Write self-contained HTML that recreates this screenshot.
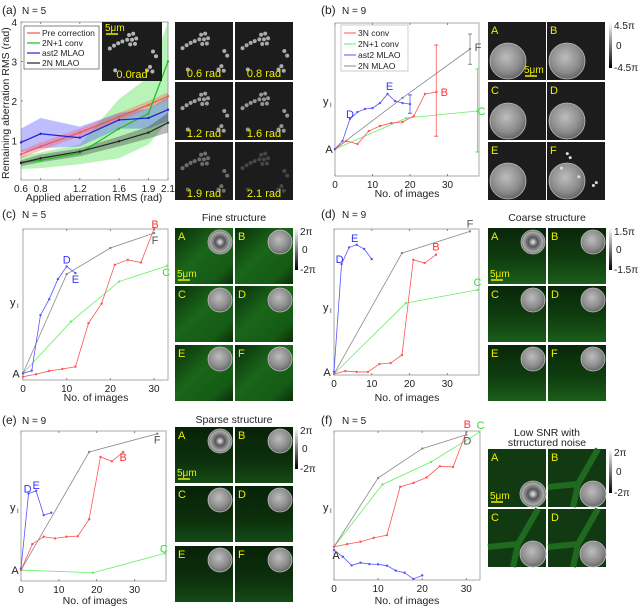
<!DOCTYPE html>
<html><head><meta charset="utf-8"><style>
body{margin:0;background:#fff}
svg{display:block;font-family:"Liberation Sans",sans-serif}
</style></head><body>
<svg id="fig" width="640" height="607" viewBox="0 0 640 607">
<defs>
<radialGradient id="pupil" cx="45%" cy="40%" r="60%"><stop offset="0" stop-color="#bdbdbd"/><stop offset="0.7" stop-color="#8a8a8a"/><stop offset="1" stop-color="#666"/></radialGradient>
<radialGradient id="pupilA" cx="50%" cy="50%" r="55%"><stop offset="0" stop-color="#eee"/><stop offset="0.35" stop-color="#555"/><stop offset="0.75" stop-color="#aaa"/><stop offset="1" stop-color="#333"/></radialGradient>
<linearGradient id="cbar" x1="0" y1="0" x2="0" y2="1"><stop offset="0" stop-color="#fff"/><stop offset="1" stop-color="#000"/></linearGradient>
<linearGradient id="fine" x1="0" y1="0" x2="1" y2="1"><stop offset="0" stop-color="#0a2e0a"/><stop offset="0.45" stop-color="#1a661a"/><stop offset="0.8" stop-color="#155a15"/><stop offset="1" stop-color="#0a2e0a"/></linearGradient>
<linearGradient id="coarse" x1="0" y1="0" x2="0" y2="1"><stop offset="0" stop-color="#092609"/><stop offset="0.55" stop-color="#0f3d0f"/><stop offset="1" stop-color="#1a5e1a"/></linearGradient>
<linearGradient id="sparse" x1="0" y1="0" x2="0" y2="1"><stop offset="0" stop-color="#082208"/><stop offset="0.6" stop-color="#0c300c"/><stop offset="1" stop-color="#154a15"/></linearGradient>
</defs>
</svg>
<script>
// ---------- data ----------
const aX=[0.6,0.8,1.2,1.6,1.9,2.1];
const aPre=[0.65,0.85,1.2,1.6,1.9,2.12];
const aPreLo=[0.55,0.75,1.1,1.5,1.8,2.02];
const aPreHi=[0.75,0.95,1.3,1.7,2.0,2.22];
const aConv=[0.45,0.5,0.68,1.3,1.68,3.0];
const aConvLo=[0.28,0.3,0.4,0.55,0.9,1.5];
const aConvHi=[0.6,0.7,0.9,2.05,2.6,4.0];
const aAst=[0.95,1.17,1.07,1.52,1.57,1.78];
const aAstLo=[0.7,0.8,0.85,1.3,1.3,1.5];
const aAstHi=[1.3,1.57,1.35,1.7,1.8,2.1];
const aMl=[0.43,0.55,0.72,0.98,1.2,1.45];
const aMlLo=[0.35,0.45,0.6,0.85,1.05,1.2];
const aMlHi=[0.5,0.65,0.8,1.1,1.35,1.7];
const aXTicks=["0.6","0.8","1.2","1.6","1.9","2.1"];
const aYTicks=[1,2,3,4];

const bRedX=[0,3,6,9,12,15,18,21,24,27];
const bRedY=[17.6,22.9,20.9,29.4,32.7,34.6,35.3,39.2,53.6,54.9];
const bGreenX=[0,19,38];
const bGreenY=[17.6,37.9,42.5];
const bBlueX=[0,2,4,6,8,10,12,14,16,18,20];
const bBlueY=[17.6,22.9,37.3,41.8,43.8,44.4,47.7,53.6,49,47.7,47];
const bGrayX=[0,18,36];
const bGrayY=[17.6,51,83];
const bErr=[[27,26,85.6,'#f55'],[38,15.7,70,'#5d5'],[20,41,53,'#55f'],[36,73,92.8,'#888']];

const cRedX=[0,3,6,9,12,15,18,21,24,27,30];
const cRedY=[2.2,3.8,6,7.3,8.8,37.6,50.6,76.3,79.6,77.8,100];
const cGreenX=[0,11,22,33];
const cGreenY=[4.4,38.7,65.2,75.6];
const cBlueX=[0,2,4,6,8,10,12];
const cBlueY=[4.4,6.2,42.9,53.5,66.8,75.2,70.8];
const cGrayX=[0,10,20,30];
const cGrayY=[4.4,70.1,87.4,97.3];

const dRedX=[0,3,6,9,12,15,18,21,24,27];
const dRedY=[0.7,2.7,2.1,2.1,7.5,8.2,13.7,78.9,76.7,82.4];
const dGreenX=[0,19,38];
const dGreenY=[0.7,49.2,58.3];
const dBlueX=[0,2,4,6,8,10];
const dBlueY=[2.3,76,87.4,89.2,86.3,79.4];
const dGrayX=[0,18,36];
const dGrayY=[0.7,83.5,98.4];

const eRedX=[0,3,6,9,12,15,18,21,24,27];
const eRedY=[7.3,24.6,29.5,28.4,29.5,29.9,41.2,82.7,79.8,86];
const eGreenX=[0,19,38];
const eGreenY=[7.3,5.5,18.4];
const eBlueX=[0,2,4,6,8];
const eBlueY=[8.4,58.3,60.1,43.9,45.5];
const eGrayX=[0,18,36];
const eGrayY=[7.3,86,98.2];

const fRedX=[0,3,6,9,12,15,18,21,24,27,30];
const fRedY=[22.3,24.1,25.7,28.3,30.1,62.5,65.2,68.8,76.3,75.9,99.3];
const fGreenX=[0,11,22,33];
const fGreenY=[22.3,64.1,79.2,99.3];
const fBlueX=[0,2,4,6,8,10,12,14,16,18,20];
const fBlueY=[20.1,15.6,9.8,11.6,10.7,10.5,9.6,6.3,4.9,0.7,3.1];
const fGrayX=[0,10,20,30];
const fGrayY=[22.3,68.5,88.2,97.5];

const numTicks=[0,10,20,30];

// ---------- helpers ----------
const S=document.getElementById('fig');
const NS='http://www.w3.org/2000/svg';
function mk(tag,attrs,parent,txt){const e=document.createElementNS(NS,tag);for(const k in attrs)e.setAttribute(k,attrs[k]);if(txt!==undefined)e.textContent=txt;(parent||S).appendChild(e);return e;}
function grp(name){const g=mk('g',{});


return g;}
function text(p,x,y,s,opt){opt=opt||{};const t=mk('text',{x:x,y:y,'font-size':opt.fs||9,fill:opt.fill||'#222','text-anchor':opt.anchor||'start'},p,s);if(opt.rot)t.setAttribute('transform','rotate(-90 '+x+' '+y+')');


return t;}

function axes(name,box,xr,yr){
  const g=grp(name);
  const sx=v=>box.x+(v-xr[0])/(xr[1]-xr[0])*box.w;
  const sy=v=>box.y+box.h-(v-yr[0])/(yr[1]-yr[0])*box.h;
  const r=mk('rect',{x:box.x,y:box.y,width:box.w,height:box.h,fill:'#fff',stroke:'#aaa','stroke-width':1},g);
  
  
  return {g,sx,sy,box};
}
function series(ax,xs,ys,color,name,w){
  const pts=xs.map((x,i)=>ax.sx(x)+','+ax.sy(ys[i])).join(' ');
  const pl=mk('polyline',{points:pts,fill:'none',stroke:color,'stroke-width':w||0.8},ax.g);
  
  
  xs.forEach((x,i)=>{const c=mk('circle',{cx:ax.sx(x),cy:ax.sy(ys[i]),r:1.2,fill:color},ax.g);
    
    });
}
function band(ax,xs,lo,hi,color,name){
  const pts=xs.map((x,i)=>ax.sx(x)+','+ax.sy(hi[i])).concat(xs.slice().reverse().map((x,j)=>{const i=xs.length-1-j;return ax.sx(x)+','+ax.sy(lo[i]);})).join(' ');
  const p=mk('polygon',{points:pts,fill:color,'fill-opacity':0.35,stroke:'none'},ax.g);
  
  
}
function xticks(ax,ticks,labels){
  ticks.forEach((t,i)=>{const x=ax.sx(t);
    mk('line',{x1:x,y1:ax.box.y+ax.box.h,x2:x,y2:ax.box.y+ax.box.h-2,stroke:'#888'},ax.g);
    mk('line',{x1:x,y1:ax.box.y,x2:x,y2:ax.box.y+2,stroke:'#888'},ax.g);
    text(ax.g,x,ax.box.y+ax.box.h+12,labels?labels[i]:String(t),{anchor:'middle',fs:10,name:'x-tick-label'});});
}
function ptLabel(ax,x,y,s,color,dx,dy){text(ax.g,ax.sx(x)+(dx||0),ax.sy(y)+(dy||0),s,{fill:color,fs:11,anchor:'middle',name:'point-label-'+s});}

// ---------- panel a ----------
text(S,2,14,'(a)',{fs:12,name:'panel-label-a'});text(S,22,14,'N = 5',{fs:10,name:'n-label-a'});
const A=axes('chart-a',{x:21,y:22,w:147,h:158},[0.6,2.1],[0,4]);
band(A,aX,aConvLo,aConvHi,'#3d3','band-2n1-conv');
band(A,aX,aAstLo,aAstHi,'#44f','band-ast2');
band(A,aX,aPreLo,aPreHi,'#f55','band-pre');
band(A,aX,aMlLo,aMlHi,'#333','band-2n-mlao');
series(A,aX,aPre,'#e55','line-pre-correction',1.2);
series(A,aX,aConv,'#2b2','line-2n1-conv',1.2);
series(A,aX,aAst,'#22c','line-ast2-mlao',1.2);
series(A,aX,aMl,'#222','line-2n-mlao',1.2);
xticks(A,aX.map(Number),aXTicks);
aYTicks.forEach(t=>{text(A.g,17,A.sy(t)+4,String(t),{anchor:'end',fs:10,name:'y-tick-label'});mk('line',{x1:21,y1:A.sy(t),x2:23,y2:A.sy(t),stroke:'#888'},A.g);});
text(S,9,179,'Remaining aberration RMS (rad)',{rot:1,fs:10.5,name:'y-axis-title-a'});
text(S,94,201,'Applied aberration RMS (rad)',{anchor:'middle',fs:10.5,name:'x-axis-title-a'});
// legend a
{const g=grp('legend-a');mk('rect',{x:24,y:26,width:75,height:43,fill:'#fff',stroke:'#333','stroke-width':0.6},g);
[['Pre correction','#e55'],['2N+1 conv','#2b2'],['ast2 MLAO','#22c'],['2N MLAO','#222']].forEach((e,i)=>{const y=36+i*10;
mk('line',{x1:27,y1:y-3,x2:40,y2:y-3,stroke:e[1],'stroke-width':1.2},g);text(g,42,y,e[0],{fs:8.5,name:'legend-entry'});});}

// bead images
function beads(g,x,y,w,h,b){
  const r=mk('rect',{x:x,y:y,width:w,height:h,fill:'#1c1c1c'},g);
  
  const rel=[[.45,.22],[.52,.2],[.42,.3],[.5,.3],[.57,.28],[.47,.38],[.55,.37],[.13,.45],[.2,.4],[.27,.36],[.34,.33],[.85,.5],[.9,.58],[.22,.82],[.75,.82],[.8,.76],[.84,.84]];
  rel.forEach(p=>mk('circle',{cx:x+p[0]*w,cy:y+p[1]*h,r:2,fill:'rgb('+b+','+b+','+b+')'},g));
}
function cap(g,x,y,s){text(g,x,y,s,{fill:'#ee0',fs:11,anchor:'middle',name:'image-caption'});}
{const g=grp('bead-grid-a');
beads(g,102,22,60,59,180);cap(g,132,78,'0.0rad');
text(g,105,31,'5μm',{fill:'#ee0',fs:10,name:'scale-bar-label'});mk('line',{x1:106,y1:34,x2:118,y2:34,stroke:'#ee0','stroke-width':1.5},g);
const cols=[175,235],rows=[22,82,142],caps=['0.6 rad','0.8 rad','1.2 rad','1.6 rad','1.9 rad','2.1 rad'],br=[170,170,160,150,110,70];
rows.forEach((ry,ri)=>cols.forEach((cx,ci)=>{const k=ri*2+ci;beads(g,cx,ry,58,58,br[k]);cap(g,cx+29,ry+55,caps[k]);}));}

// ---------- panel b ----------
text(S,321,14,'(b)',{fs:12,name:'panel-label-b'});text(S,342,14,'N = 9',{fs:10,name:'n-label-b'});
const B=axes('chart-b',{x:335,y:23,w:144,h:153},[0,38.4],[0,100]);
series(B,bGreenX,bGreenY,'#6e6','line-2n1-conv');
series(B,bGrayX,bGrayY,'#888','line-2n-mlao');
series(B,bRedX,bRedY,'#f55','line-3n-conv');
series(B,bBlueX,bBlueY,'#55f','line-ast2-mlao');
bErr.forEach(e=>{const x=B.sx(e[0]);const l=mk('line',{x1:x,y1:B.sy(e[1]),x2:x,y2:B.sy(e[2]),stroke:e[3],'stroke-width':0.8},B.g);

[e[1],e[2]].forEach(v=>mk('line',{x1:x-2,y1:B.sy(v),x2:x+2,y2:B.sy(v),stroke:e[3]},B.g));});
xticks(B,numTicks);
text(S,407,197,'No. of images',{anchor:'middle',fs:10.5,name:'x-axis-title-b'});
text(S,323,105,'y',{fs:11,name:'y-axis-title-b'});text(S,330,107,'I',{fs:6,name:'y-axis-sub'});
ptLabel(B,0,17.6,'A','#222',-6,4);ptLabel(B,4,37.3,'D','#33f',0,-1);ptLabel(B,14,53.6,'E','#33f',2,-4);
ptLabel(B,27,54.9,'B','#f33',8,4);ptLabel(B,38,42.5,'C','#3d3',4,4);ptLabel(B,36,83,'F','#555',8,2);
{const g=grp('legend-b');mk('rect',{x:341,y:25,width:67,height:46,fill:'#fff',stroke:'#aaa','stroke-width':0.6},g);
[['3N conv','#f55'],['2N+1 conv','#6e6'],['ast2 MLAO','#55f'],['2N MLAO','#888']].forEach((e,i)=>{const y=36+i*11;
mk('line',{x1:344,y1:y-3,x2:356,y2:y-3,stroke:e[1]},g);text(g,358,y,e[0],{fs:8.5,name:'legend-entry'});});}

// generic grids
function pupil(g,cx,cy,r,fill){const c=mk('circle',{cx:cx,cy:cy,r:r,fill:'url(#'+fill+')',stroke:'#bbb','stroke-width':0.8},g);
}
function tile(g,x,y,w,h,fill,letter){const r=mk('rect',{x:x,y:y,width:w,height:h,fill:fill},g);

text(g,x+3,y+12,letter,{fill:'#ee0',fs:11,name:'tile-letter'});}
function colorbar(g,x,y,h,labels){const r=mk('rect',{x:x,y:y,width:3,height:h,fill:'url(#cbar)'},g);

text(g,x+5,y+7,labels[0],{fs:10,name:'colorbar-max'});text(g,x+7,y+h/2+4,'0',{fs:10,name:'colorbar-zero'});text(g,x+5,y+h+3,labels[1],{fs:10,name:'colorbar-min'});}
function scalebar(g,x,y){text(g,x,y,'5μm',{fill:'#ee0',fs:10,name:'scale-bar-label'});mk('line',{x1:x+1,y1:y+3,x2:x+13,y2:y+3,stroke:'#ee0','stroke-width':1.5},g);}

// b images
{const g=grp('image-grid-b');const cols=[488,547],rows=[22,82,142],L=['A','B','C','D','E','F'];
rows.forEach((ry,ri)=>cols.forEach((cx,ci)=>{const k=ri*2+ci;tile(g,cx,ry,58,58,'#1c1c1c',L[k]);pupil(g,cx+20,ry+39,18,'pupil');
if(k==5)[[.35,.2],[.4,.27],[.25,.45],[.55,.6],[.8,.75],[.85,.7]].forEach(p=>mk('circle',{cx:cx+p[0]*58,cy:ry+p[1]*58,r:1.5,fill:'#ddd'},g));}));
scalebar(g,524,73);colorbar(g,609,22,46,['4.5π','-4.5π']);}

// ---------- panel c ----------
text(S,2,218,'(c)',{fs:12,name:'panel-label-c'});text(S,22,218,'N = 5',{fs:10,name:'n-label-c'});
const C=axes('chart-c',{x:23,y:229,w:145,h:151},[0,33.2],[0,100]);
series(C,cGreenX,cGreenY,'#6e6','line-2n1-conv');series(C,cGrayX,cGrayY,'#888','line-2n-mlao');
series(C,cRedX,cRedY,'#f55','line-3n-conv');series(C,cBlueX,cBlueY,'#55f','line-ast2-mlao');
xticks(C,numTicks);text(S,96,401,'No. of images',{anchor:'middle',fs:10.5,name:'x-axis-title-c'});
text(S,10,306,'y',{fs:11,name:'y-axis-title-c'});text(S,17,308,'I',{fs:6,name:'y-axis-sub'});
ptLabel(C,0,4.4,'A','#222',-7,4);ptLabel(C,10,75.2,'D','#33f',0,-3);ptLabel(C,12,70.8,'E','#33f',0,10);
ptLabel(C,30,100,'B','#f33',1,-1);ptLabel(C,30,97.3,'F','#555',1,11);ptLabel(C,33,75.6,'C','#3d3',-1,10);
function grid(name,cols,rows,fill,pupilPos,letters){const g=grp(name);rows.forEach((ry,ri)=>cols.forEach((cx,ci)=>{const k=ri*2+ci;
tile(g,cx,ry,58,56,'url(#'+fill+')',letters[k]);pupil(g,cx+pupilPos[0],ry+pupilPos[1],12,k==0?'pupilA':'pupil');}));return g;}
{const g=grid('image-grid-c',[175,235],[228,286,345],'fine',[45,14],['A','B','C','D','E','F']);
text(S,234,221,'Fine structure',{anchor:'middle',fs:10.5,name:'title-fine-structure'});scalebar(g,177,277);colorbar(g,295,228,42,['2π','-2π']);}

// ---------- panel d ----------
text(S,321,218,'(d)',{fs:12,name:'panel-label-d'});text(S,342,218,'N = 9',{fs:10,name:'n-label-d'});
const D=axes('chart-d',{x:334,y:229,w:145,h:146},[0,38.4],[0,100]);
series(D,dGreenX,dGreenY,'#6e6','line-2n1-conv');series(D,dGrayX,dGrayY,'#888','line-2n-mlao');
series(D,dRedX,dRedY,'#f55','line-3n-conv');series(D,dBlueX,dBlueY,'#55f','line-ast2-mlao');
xticks(D,numTicks);text(S,407,401,'No. of images',{anchor:'middle',fs:10.5,name:'x-axis-title-d'});
text(S,323,311,'y',{fs:11,name:'y-axis-title-d'});text(S,330,313,'I',{fs:6,name:'y-axis-sub'});
ptLabel(D,0,0.7,'A','#222',-7,2);ptLabel(D,2,76,'D','#33f',-2,-1);ptLabel(D,6,89.2,'E','#33f',-2,-3);
ptLabel(D,27,82.4,'B','#f33',0,-4);ptLabel(D,38,58.3,'C','#3d3',0,-4);ptLabel(D,36,98.4,'F','#555',0,-4);
{const g=grid('image-grid-d',[488,548],[228,286,345],'coarse',[45,14],['A','B','C','D','E','F']);
text(S,547,221,'Coarse structure',{anchor:'middle',fs:10.5,name:'title-coarse-structure'});scalebar(g,490,277);colorbar(g,609,228,42,['1.5π','-1.5π']);}

// ---------- panel e ----------
text(S,2,424,'(e)',{fs:12,name:'panel-label-e'});text(S,22,424,'N = 9',{fs:10,name:'n-label-e'});
const E=axes('chart-e',{x:21,y:431,w:145,h:150},[0,38.3],[0,100]);
series(E,eGreenX,eGreenY,'#6e6','line-2n1-conv');series(E,eGrayX,eGrayY,'#888','line-2n-mlao');
series(E,eRedX,eRedY,'#f55','line-3n-conv');series(E,eBlueX,eBlueY,'#55f','line-ast2-mlao');
xticks(E,numTicks);text(S,95,604,'No. of images',{anchor:'middle',fs:10.5,name:'x-axis-title-e'});
text(S,10,511,'y',{fs:11,name:'y-axis-title-e'});text(S,17,513,'I',{fs:6,name:'y-axis-sub'});
ptLabel(E,0,7.3,'A','#222',-6,4);ptLabel(E,2,58.3,'D','#33f',-1,-1);ptLabel(E,4,60.1,'E','#33f',0,-2);
ptLabel(E,27,86,'B','#f33',0,9);ptLabel(E,38,18.4,'C','#3d3',-1,-1);ptLabel(E,36,98.2,'F','#555',0,10);
{const g=grid('image-grid-e',[175,235],[427,486,546],'sparse',[45,14],['A','B','C','D','E','F']);
text(S,234,423,'Sparse structure',{anchor:'middle',fs:10.5,name:'title-sparse-structure'});scalebar(g,177,476);colorbar(g,295,427,42,['2π','-2π']);}

// ---------- panel f ----------
text(S,321,424,'(f)',{fs:12,name:'panel-label-f'});text(S,342,424,'N = 5',{fs:10,name:'n-label-f'});
const F=axes('chart-f',{x:334,y:431,w:146,h:149},[0,33.1],[0,100]);
series(F,fGreenX,fGreenY,'#6e6','line-2n1-conv');series(F,fGrayX,fGrayY,'#888','line-2n-mlao');
series(F,fRedX,fRedY,'#f55','line-3n-conv');series(F,fBlueX,fBlueY,'#55f','line-ast2-mlao');
xticks(F,numTicks);text(S,407,604,'No. of images',{anchor:'middle',fs:10.5,name:'x-axis-title-f'});
text(S,323,511,'y',{fs:11,name:'y-axis-title-f'});text(S,330,513,'I',{fs:6,name:'y-axis-sub'});
ptLabel(F,0,22.3,'A','#222',2,12);ptLabel(F,30,99.3,'B','#f33',1,-4);ptLabel(F,33,99.3,'C','#3d3',1,-3);ptLabel(F,30,97.5,'D','#555',1,10);
{const g=grp('image-grid-f');const cols=[488,548],rows=[449,509],L=['A','B','C','D'];
rows.forEach((ry,ri)=>cols.forEach((cx,ci)=>{const k=ri*2+ci;tile(g,cx,ry,58,58,'#123a12',L[k]);
if(k>0){mk('path',{d:'M'+(cx+50)+' '+ry+' L'+(cx+30)+' '+(ry+35)+' L'+cx+' '+(ry+38)+' M'+(cx+30)+' '+(ry+35)+' L'+(cx+25)+' '+(ry+58),stroke:'#1f6a1f','stroke-width':6,fill:'none'},g);}
pupil(g,cx+45,ry+45,13,k==0?'pupilA':'pupil');}));
text(S,547,436,'Low SNR with',{anchor:'middle',fs:10.5,name:'title-low-snr'});text(S,547,446,'strructured noise',{anchor:'middle',fs:10.5,name:'title-low-snr-2'});
scalebar(g,490,499);colorbar(g,609,449,44,['2π','-2π']);}
</script>
</body></html>
